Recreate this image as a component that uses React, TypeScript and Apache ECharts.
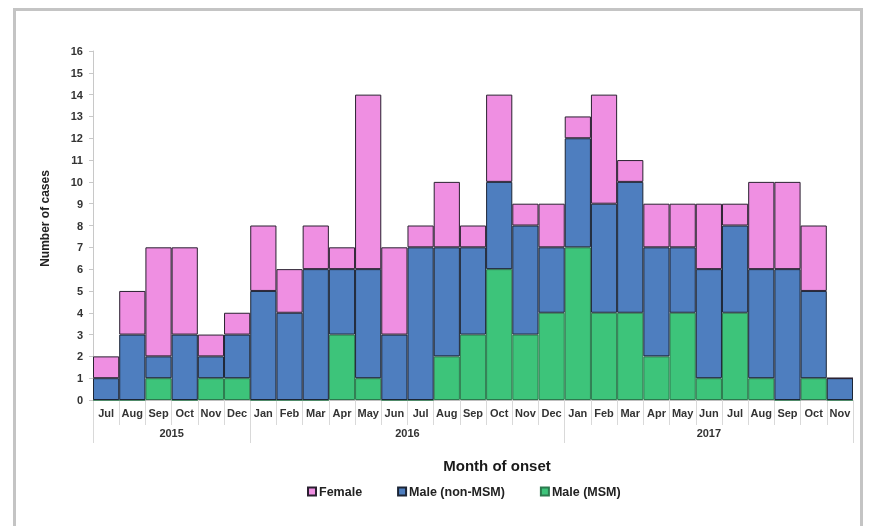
import React, { useEffect, useRef } from "react";
import * as echarts from "echarts";

const months = [
  "Jul", "Aug", "Sep", "Oct", "Nov", "Dec",
  "Jan", "Feb", "Mar", "Apr", "May", "Jun", "Jul", "Aug", "Sep", "Oct", "Nov", "Dec",
  "Jan", "Feb", "Mar", "Apr", "May", "Jun", "Jul", "Aug", "Sep", "Oct", "Nov",
];
const years = ["2015", "2016", "2017"];
const monthsPerYear = [6, 12, 11];

const maleMSM = [0, 0, 1, 0, 1, 1, 0, 0, 0, 3, 1, 0, 0, 2, 3, 6, 3, 4, 7, 4, 4, 2, 4, 1, 4, 1, 0, 1, 0];
const maleNonMSM = [1, 3, 1, 3, 1, 2, 5, 4, 6, 3, 5, 3, 7, 5, 4, 4, 5, 3, 5, 5, 6, 5, 3, 5, 4, 5, 6, 4, 1];
const female = [1, 2, 5, 4, 1, 1, 3, 2, 2, 1, 8, 4, 1, 3, 1, 4, 1, 2, 1, 5, 1, 2, 2, 3, 1, 4, 4, 3, 0];

const FONT = "'Liberation Sans', Arial, sans-serif";

export default function App() {
  const ref = useRef<HTMLDivElement>(null);
  useEffect(() => {
    if (!ref.current) return;
    const chart = echarts.init(ref.current, null, { renderer: "svg" });
    const bounds: number[] = [0];
    monthsPerYear.forEach((n) => bounds.push(bounds[bounds.length - 1] + n));
    const centers = years.map((_, i) => (bounds[i] + bounds[i + 1]) / 2);
    const total = months.length;

    const barBase = { type: "bar", stack: "cases", barCategoryGap: 0, xAxisIndex: 0 };
    chart.setOption({
      animation: false,
      textStyle: { fontFamily: FONT },
      graphic: [
        {
          type: "rect",
          shape: { x: 14.5, y: 9.5, width: 847, height: 640 },
          style: { fill: "none", stroke: "#c4c4c4", lineWidth: 3 },
          silent: true,
          z: -1,
        },
      ],
      title: {
        text: "Month of onset",
        left: 492,
        top: 453,
        textAlign: "center",
        textStyle: { fontFamily: FONT, fontWeight: "bold", fontSize: 15, color: "#1a1a1a" },
      },
      grid: { left: 93, right: 16, top: 51, bottom: 126 },
      legend: {
        top: 480,
        left: 302,
        itemWidth: 8,
        itemHeight: 8,
        itemGap: 35,
        icon: "rect",
        data: ["Female", "Male (non-MSM)", "Male (MSM)"],
        textStyle: { fontFamily: FONT, fontWeight: "bold", fontSize: 12.5, color: "#222", padding: [0, 0, 0, -2] },
      },
      xAxis: [
        {
          type: "category",
          data: months,
          position: "bottom",
          axisLine: { lineStyle: { color: "#bfbfbf" } },
          axisTick: { show: true, interval: 0, length: 25, lineStyle: { color: "#d9d9d9" } },
          axisLabel: { interval: 0, margin: 7, fontFamily: FONT, fontWeight: "bold", fontSize: 11, color: "#333" },
          splitLine: { show: false },
        },
        {
          type: "value",
          min: 0,
          max: total,
          position: "bottom",
          axisLine: { show: false },
          splitLine: { show: false },
          axisTick: { show: true, customValues: bounds, length: 43, lineStyle: { color: "#d9d9d9" } },
          axisLabel: {
            customValues: centers,
            margin: 27,
            fontFamily: FONT,
            fontWeight: "bold",
            fontSize: 11,
            color: "#333",
            formatter: (v: number) => {
              const i = centers.indexOf(v);
              return i >= 0 ? years[i] : "";
            },
          },
        },
      ],
      yAxis: {
        type: "value",
        min: 0,
        max: 16,
        interval: 1,
        name: "Number of cases",
        nameLocation: "middle",
        nameGap: 42,
        nameTextStyle: { fontFamily: FONT, fontWeight: "bold", fontSize: 12, color: "#222", padding: [0, 0, 0, 14] },
        axisLine: { show: true, lineStyle: { color: "#c8c8c8" } },
        axisTick: { show: true, length: 4, lineStyle: { color: "#c8c8c8" } },
        axisLabel: { margin: 10, fontFamily: FONT, fontWeight: "bold", fontSize: 11, color: "#333" },
        splitLine: { show: false },
      },
      series: [
        {
          ...barBase,
          name: "Male (MSM)",
          data: maleMSM,
          itemStyle: { color: "#3dc47a", borderColor: "#2c7a4e", borderWidth: 1 },
        },
        {
          ...barBase,
          name: "Male (non-MSM)",
          data: maleNonMSM,
          itemStyle: { color: "#4e7ebf", borderColor: "#1c2535", borderWidth: 1 },
        },
        {
          ...barBase,
          name: "Female",
          data: female,
          itemStyle: { color: "#ef8fe2", borderColor: "#2a2030", borderWidth: 1 },
        },
      ],
    });
    return () => chart.dispose();
  }, []);
  return <div ref={ref} style={{ position: "fixed", left: 0, top: 0, width: 869, height: 526 }} />;
}
